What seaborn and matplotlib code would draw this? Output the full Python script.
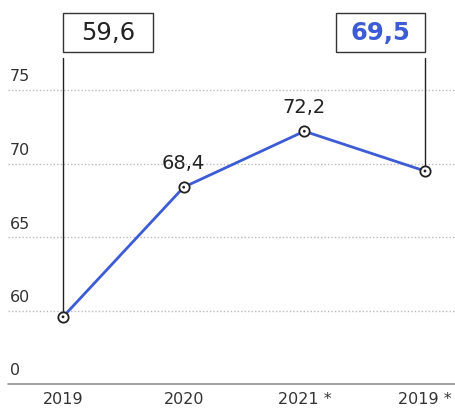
import matplotlib
matplotlib.use('Agg')
import numpy as np
import pandas as pd
import matplotlib.pyplot as plt
from matplotlib.patches import Rectangle
import seaborn as sns

sns.set_theme(style='white')
plt.rcParams['font.family'] = ['DejaVu Sans']

# Data
years = ['2019', '2020', '2021 *', '2019 *']
values = [59.6, 68.4, 72.2, 69.5]
value_labels = ['59,6', '68,4', '72,2', '69,5']
tick_labels = ['0', '60', '65', '70', '75']
tick_values = [55.04, 60, 65, 70, 75]   # 0 sits on a broken axis below 60

df = pd.DataFrame({'year': years, 'value': values})
x = np.arange(len(years))

fig = plt.figure(figsize=(4.56, 4.11), dpi=100)
ax = fig.add_axes([8 / 456, 27 / 411, 448 / 456, 384 / 411])

blue = '#3d5bd4'
sns.lineplot(x=x, y=df['value'], color=blue, lw=2, ax=ax, zorder=3)
sns.scatterplot(x=x, y=df['value'], s=55, color='white', edgecolor='#222222',
                linewidth=1.3, ax=ax, zorder=4)
sns.scatterplot(x=x, y=df['value'], s=4, color='#222222', edgecolor='none', ax=ax, zorder=5)

ax.set_xlim(-0.456, 3.257)
ax.set_ylim(tick_values[0], 81.11)

# grid lines
for v in tick_values[1:]:
    ax.axhline(v, color='#bbbbbb', lw=1, ls=(0, (1, 1.5)), zorder=1)
ax.axhline(tick_values[0], color='#888888', lw=1.1, zorder=1, clip_on=False)

for v, t in zip(tick_values, tick_labels):
    ax.annotate(t, (0.005, v), xycoords=('axes fraction', 'data'), xytext=(0, 4),
                textcoords='offset points', ha='left', va='bottom', fontsize=11.5, color='#333333')

ax.set_yticks([])
ax.set_xticks(x)
ax.set_xticklabels(years, fontsize=11.5, color='#333333')
ax.tick_params(axis='x', length=0, pad=6)
ax.set_xlabel('')
ax.set_ylabel('')
for s in ax.spines.values():
    s.set_visible(False)

# middle value labels
for i in (1, 2):
    ax.annotate(value_labels[i], (x[i], values[i]), xytext=(0, 10), textcoords='offset points',
                ha='center', va='bottom', fontsize=14, color='#222222')

# boxed end labels
box_top, box_bot, line_top = 80.25, 77.55, 77.17
boxes = [(0, 0.0, 0.746, '#222222', 'normal'), (3, 2.26, 3.0, blue, 'bold')]
for i, x0, x1, col, wt in boxes:
    ax.add_patch(Rectangle((x0, box_bot), x1 - x0, box_top - box_bot, fill=False,
                           edgecolor='#333333', lw=1, clip_on=False, zorder=6))
    ax.text((x0 + x1) / 2, (box_top + box_bot) / 2, value_labels[i], ha='center', va='center',
            fontsize=17.5, color=col, fontweight=wt, zorder=7)
    ax.plot([x[i], x[i]], [line_top, values[i]], color='#222222', lw=1, zorder=2)

fig.savefig('out.png', dpi=100)
